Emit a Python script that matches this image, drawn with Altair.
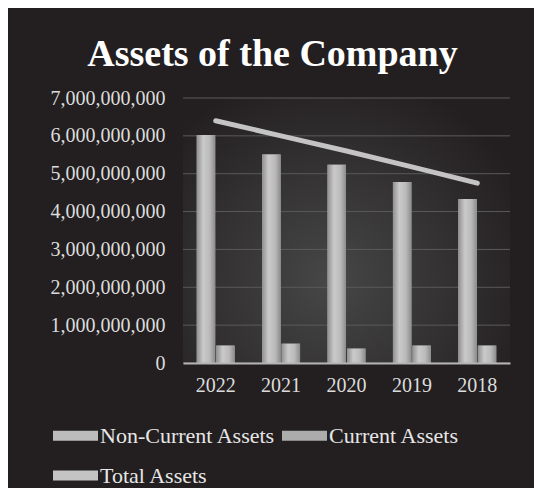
import altair as alt
import pandas as pd

years = ["2022", "2021", "2020", "2019", "2018"]
non_current = [6.02e9, 5.51e9, 5.24e9, 4.78e9, 4.33e9]
current = [0.46e9, 0.51e9, 0.38e9, 0.46e9, 0.46e9]
total = [6.40e9, 6.00e9, 5.60e9, 5.18e9, 4.75e9]
y_ticks = [0, 1e9, 2e9, 3e9, 4e9, 5e9, 6e9, 7e9]
series_names = ["Non-Current Assets", "Current Assets", "Total Assets"]

FONT = "Liberation Serif"
BG = "#231f20"

bars_df = pd.DataFrame(
    {
        "year": years * 2,
        "series": [series_names[0]] * 5 + [series_names[1]] * 5,
        "value": non_current + current,
    }
)
line_df = pd.DataFrame({"year": years, "series": series_names[2], "value": total})
grid_df = pd.DataFrame({"value": y_ticks})
bg_df = pd.DataFrame({"a": [0]})

x_enc = alt.X(
    "year:N",
    sort=years,
    title=None,
    scale=alt.Scale(paddingInner=0.42, paddingOuter=0.21),
    axis=alt.Axis(
        labelFont=FONT,
        labelFontSize=20,
        labelColor="#dcdcdc",
        labelAngle=0,
        labelPadding=12,
        ticks=False,
        domainColor="#b4b4b4",
        domainWidth=2,
        zindex=1,
    ),
)
y_scale = alt.Scale(domain=[0, 7e9])
y_axis = alt.Axis(
    values=y_ticks,
    format=",d",
    labelFont=FONT,
    labelFontSize=20,
    labelColor="#dcdcdc",
    labelPadding=18,
    ticks=False,
    domain=False,
    grid=False,
    zindex=1,
)
y_enc = alt.Y("value:Q", scale=y_scale, title=None, axis=y_axis)

color_scale = alt.Scale(
    domain=series_names, range=["#bcbcbc", "#acacac", "#c4c4c4"]
)

glow = (
    alt.Chart(bg_df)
    .mark_rect(
        fill=alt.RadialGradient(
            gradient="radial",
            stops=[
                alt.GradientStop(offset=0, color="#474747"),
                alt.GradientStop(offset=1, color=BG),
            ],
            x1=0.45, y1=0.65, x2=0.45, y2=0.65, r1=0, r2=0.65,
        )
    )
    .encode(x=alt.value(0), x2=alt.value("width"), y=alt.value(0), y2=alt.value("height"))
)

grid = (
    alt.Chart(grid_df)
    .mark_rule(color="#5a5a5a", strokeWidth=1)
    .encode(y=y_enc)
)

bars = (
    alt.Chart(bars_df)
    .mark_bar()
    .encode(
        x=x_enc,
        xOffset=alt.XOffset("series:N", sort=series_names[:2], scale=alt.Scale(paddingInner=0.05)),
        y=y_enc,
        color=alt.Color(
            "series:N",
            scale=color_scale,
            legend=alt.Legend(
                title=None,
                orient="none",
                direction="horizontal",
                legendX=-130,
                legendY=315,
                columns=2,
                symbolType="M-1,-0.22L1,-0.22L1,0.22L-1,0.22Z",
                symbolSize=2025,
                symbolStrokeWidth=0,
                symbolOpacity=1,
                labelFont=FONT,
                labelFontSize=22,
                labelColor="#e6e6e6",
                labelOffset=2,
                columnPadding=6,
                rowPadding=6,
                labelLimit=400,
            ),
        ),
    )
)

bars_shade = (
    alt.Chart(bars_df)
    .mark_bar(
        fill=alt.LinearGradient(
            gradient="linear",
            stops=[
                alt.GradientStop(offset=0, color="#909090"),
                alt.GradientStop(offset=0.35, color="#cacaca"),
                alt.GradientStop(offset=0.7, color="#bababa"),
                alt.GradientStop(offset=1, color="#8c8c8c"),
            ],
            x1=0, x2=1, y1=0, y2=0,
        )
    )
    .encode(
        x=alt.X("year:N", sort=years),
        xOffset=alt.XOffset("series:N", sort=series_names[:2]),
        y=y_enc,
    )
)

line = (
    alt.Chart(line_df)
    .mark_line(strokeWidth=5, strokeCap="round")
    .encode(
        x=alt.X("year:N", sort=years),
        y=y_enc,
        color=alt.Color("series:N", scale=color_scale),
    )
)

chart = (
    alt.layer(glow, grid, bars, bars_shade, line)
    .properties(
        width=327,
        height=265,
        background=BG,
        padding={"left": 175, "top": 90, "right": 24, "bottom": 125},
        autosize=alt.AutoSizeParams(type="none"),
        title=alt.TitleParams(
            "Assets of the Company",
            font=FONT,
            fontSize=38,
            fontWeight="bold",
            color="#ffffff",
            anchor="middle",
            frame="group",
            dx=-74,
            dy=38,
            baseline="alphabetic",
            offset=22,
        ),
    )
    .configure_view(stroke=None)
)

chart.save("out.html", embed_options={"renderer": "svg", "actions": False})
